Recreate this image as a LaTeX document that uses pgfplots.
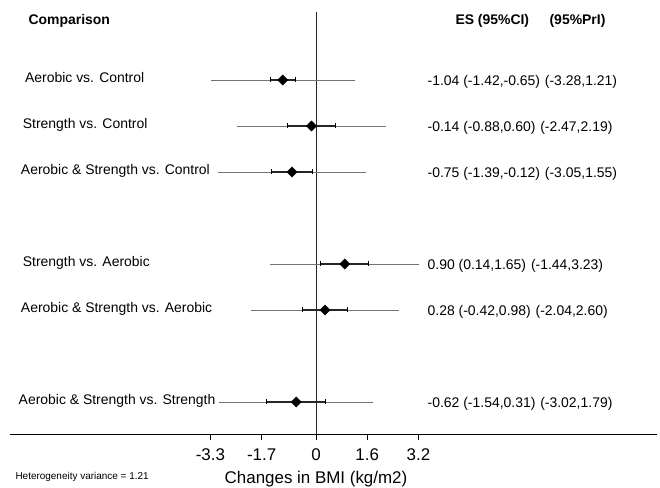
\documentclass[border=0pt]{standalone}
\usepackage{fontspec}
\setmainfont{Liberation Sans}
\usepackage{pgfplots}
\usepackage{pgfplotstable}
\pgfplotsset{compat=1.18}
\pgfplotstableread{
row es cil ciu pil piu
0 -1.04 -1.42 -0.65 -3.28 1.21
-1 -0.14 -0.88 0.60 -2.47 2.19
-2 -0.75 -1.39 -0.12 -3.05 1.55
-4 0.90 0.14 1.65 -1.44 3.23
-5 0.28 -0.42 0.98 -2.04 2.60
-7 -0.62 -1.54 0.31 -3.02 1.79
}\data
\newcommand{\lab}{\fontsize{14}{16}\selectfont}
\begin{document}
\begin{tikzpicture}
\path[use as bounding box] (0,0) rectangle (660bp,488bp);
\begin{axis}[at={(10bp,54bp)}, anchor=south west, scale only axis,
  width=647bp, height=422bp,
  xmin=-9.5625, xmax=10.65625, ymin=-7.696, ymax=1.478,
  hide y axis, axis x line*=bottom,
  x axis line style={-, line width=1bp, black},
  xtick={-3.3,-1.7,0,1.6,3.2}, xticklabels={-3.3,-1.7,0,1.6,3.2},
  xtick align=outside, major tick length=6bp,
  xtick style={draw=black, line width=1bp},
  xticklabel style={font=\fontsize{17}{20}\selectfont, yshift=-5bp},
  clip=false]
% vertical line of no effect
\addplot[black!85, line width=1bp] coordinates {(0,-7.696) (0,1.478)};
% prediction intervals
\addplot[only marks, mark=none, error bars/.cd, x dir=both, x explicit,
  error mark=none, error bar style={line width=0.9bp, black!55}]
  table[x=es, y=row, x error plus expr=\thisrow{piu}-\thisrow{es},
        x error minus expr=\thisrow{es}-\thisrow{pil}] {\data};
% confidence intervals
\addplot[only marks, mark=none, error bars/.cd, x dir=both, x explicit,
  error mark=none, error bar style={line width=1.2bp, black!85}]
  table[x=es, y=row, x error plus expr=\thisrow{ciu}-\thisrow{es},
        x error minus expr=\thisrow{es}-\thisrow{cil}] {\data};
% CI end ticks
\addplot[only marks, mark=|, mark size=2.5bp, mark options={line width=0.9bp, black}]
  table[x=cil, y=row] {\data};
\addplot[only marks, mark=|, mark size=2.5bp, mark options={line width=0.9bp, black}]
  table[x=ciu, y=row] {\data};
% point estimates
\addplot[only marks, mark=square*, mark size=3.6bp,
  mark options={rotate=45, fill=black, draw=black}]
  table[x=es, y=row] {\data};

% headers
\node[anchor=base west, font=\lab\bfseries] at (axis cs:-9.09,1.196) {Comparison};
\node[anchor=base west, font=\lab\bfseries] at (axis cs:4.25,1.196) {ES (95\%CI)};
\node[anchor=base west, font=\lab\bfseries] at (axis cs:7.19,1.196) {(95\%PrI)};

% left labels
\node[anchor=base west, font=\lab, yshift=-3bp] at (axis cs:-9.2,0) {Aerobic vs. Control};
\node[anchor=base west, font=\lab, yshift=-3bp] at (axis cs:-9.27,-1) {Strength vs. Control};
\node[anchor=base west, font=\lab, yshift=-3bp] at (axis cs:-9.33,-2) {Aerobic \& Strength vs. Control};
\node[anchor=base west, font=\lab, yshift=-3bp] at (axis cs:-9.27,-4) {Strength vs. Aerobic};
\node[anchor=base west, font=\lab, yshift=-3bp] at (axis cs:-9.33,-5) {Aerobic \& Strength vs. Aerobic};
\node[anchor=base west, font=\lab, yshift=-3bp] at (axis cs:-9.4,-7) {Aerobic \& Strength vs. Strength};

% right labels
\node[anchor=base west, font=\lab, yshift=-6bp] at (axis cs:3.38,0) {-1.04 (-1.42,-0.65)\hspace{0.35em}(-3.28,1.21)};
\node[anchor=base west, font=\lab, yshift=-6bp] at (axis cs:3.38,-1) {-0.14 (-0.88,0.60)\hspace{0.35em}(-2.47,2.19)};
\node[anchor=base west, font=\lab, yshift=-6bp] at (axis cs:3.38,-2) {-0.75 (-1.39,-0.12)\hspace{0.35em}(-3.05,1.55)};
\node[anchor=base west, font=\lab, yshift=-6bp] at (axis cs:3.38,-4) {0.90 (0.14,1.65)\hspace{0.35em}(-1.44,3.23)};
\node[anchor=base west, font=\lab, yshift=-6bp] at (axis cs:3.38,-5) {0.28 (-0.42,0.98)\hspace{0.35em}(-2.04,2.60)};
\node[anchor=base west, font=\lab, yshift=-6bp] at (axis cs:3.38,-7) {-0.62 (-1.54,0.31)\hspace{0.35em}(-3.02,1.79)};

% axis label and note
\node[anchor=base, font=\fontsize{17}{20}\selectfont, yshift=-49bp] at (axis cs:0,-7.696) {Changes in BMI (kg/m2)};
\node[anchor=base west, font=\fontsize{10}{12}\selectfont, xshift=2bp, yshift=-45bp] at (axis cs:-9.5625,-7.696) {Heterogeneity variance = 1.21};
\end{axis}
\end{tikzpicture}
\end{document}
